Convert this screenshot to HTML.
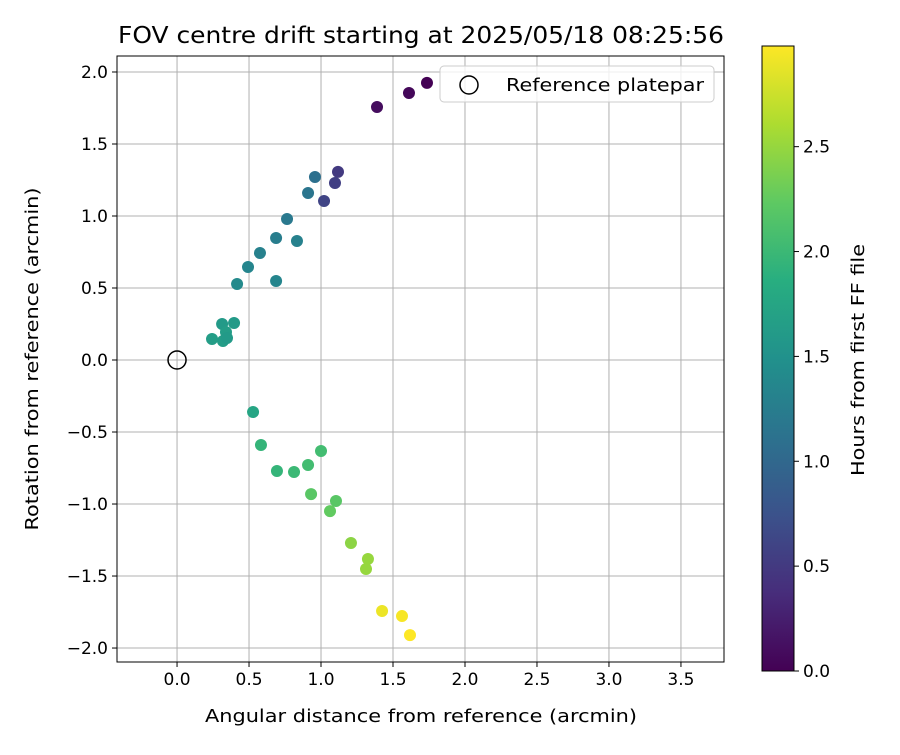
<!DOCTYPE html>
<html><head><meta charset="utf-8"><style>
body{margin:0;background:#fff;width:900px;height:750px;overflow:hidden}
text{font-family:"DejaVu Sans","Liberation Sans",sans-serif;fill:#000}
</style></head><body>
<svg id="chart" width="900" height="750" xmlns="http://www.w3.org/2000/svg">
<defs><linearGradient id="vir" x1="0" y1="1" x2="0" y2="0">
<stop offset="0" stop-color="#440154"/><stop offset="0.125" stop-color="#472d7b"/><stop offset="0.25" stop-color="#3b528b"/><stop offset="0.375" stop-color="#2c728e"/><stop offset="0.5" stop-color="#21918c"/><stop offset="0.625" stop-color="#28ae80"/><stop offset="0.75" stop-color="#5ec962"/><stop offset="0.875" stop-color="#addc30"/><stop offset="1" stop-color="#fde725"/></linearGradient></defs>
<g id="grid"></g><g id="pts"></g><g id="axes"></g>
</svg>
<script>
const xs=[1.736,1.611,1.389,1.118,1.097,1.021,0.958,0.910,0.764,0.688,0.833,0.576,0.493,0.688,0.417,0.396,0.313,0.340,0.243,0.319,0.347,0.528,0.583,0.694,0.8125,0.910,1.0,0.931,1.104,1.0625,1.208,1.326,1.3125,1.424,1.5625,1.618];
const ys=[1.924,1.854,1.757,1.306,1.229,1.104,1.271,1.160,0.979,0.847,0.826,0.743,0.646,0.549,0.528,0.257,0.25,0.194,0.146,0.132,0.153,-0.361,-0.590,-0.771,-0.778,-0.729,-0.632,-0.931,-0.979,-1.049,-1.271,-1.382,-1.451,-1.743,-1.778,-1.910];
const hours=[0.0,0.05,0.1,0.5,0.55,0.6,1.1,1.15,1.2,1.25,1.3,1.3,1.35,1.35,1.4,1.6,1.6,1.65,1.65,1.65,1.6,1.75,1.95,1.95,2.0,2.05,2.05,2.2,2.2,2.25,2.45,2.5,2.5,2.9,2.95,2.98];
const xTicks=[0,0.5,1,1.5,2,2.5,3,3.5];
const yTicks=[-2,-1.5,-1,-0.5,0,0.5,1,1.5,2];
const cTicks=[0,0.5,1,1.5,2,2.5];
const L=117,R=724,T=56,B=662,xmin=-0.417,xmax=3.799,ymin=-2.097,ymax=2.111,hmax=2.98;
const sx=v=>L+(v-xmin)/(xmax-xmin)*(R-L), sy=v=>B-(v-ymin)/(ymax-ymin)*(B-T);
const CT=46,CB=671,cy=v=>CB-v/hmax*(CB-CT);
const vs=[[68,1,84],[71,45,123],[59,82,139],[44,114,142],[33,145,140],[40,174,128],[94,201,98],[173,220,48],[253,231,37]];
function vir(t){t=Math.max(0,Math.min(1,t))*8;const i=Math.min(7,Math.floor(t)),f=t-i,a=vs[i],b=vs[i+1];return`rgb(${a.map((c,k)=>Math.round(c+(b[k]-c)*f)).join(',')})`;}
const NS='http://www.w3.org/2000/svg';
function mk(p,tag,at,txt){const e=document.createElementNS(NS,tag);for(const k in at)e.setAttribute(k,at[k]);if(txt!=null)e.textContent=txt;p.appendChild(e);return e;}
const g=document.getElementById('grid'),pg=document.getElementById('pts'),ax=document.getElementById('axes');
xTicks.forEach(v=>{const X=sx(v);const l=mk(g,'line',{x1:X,x2:X,y1:T,y2:B,stroke:'#b0b0b0','stroke-width':1});

mk(ax,'line',{x1:X,x2:X,y1:B,y2:B+5,stroke:'#000'});
const t=mk(ax,'text',{x:X,y:B+23,'text-anchor':'middle','font-size':'17'},v.toFixed(1));
});
yTicks.forEach(v=>{const Y=sy(v);const l=mk(g,'line',{x1:L,x2:R,y1:Y,y2:Y,stroke:'#b0b0b0','stroke-width':1});

mk(ax,'line',{x1:L-5,x2:L,y1:Y,y2:Y,stroke:'#000'});
const t=mk(ax,'text',{x:L-9,y:Y+6,'text-anchor':'end','font-size':'17'},(v<0?'\u2212':'')+Math.abs(v).toFixed(1));
});
xs.forEach((x,i)=>{const c=mk(pg,'circle',{cx:sx(x),cy:sy(ys[i]),r:6,fill:vir(hours[i]/hmax)});
});
const ref=mk(pg,'circle',{cx:sx(0),cy:sy(0),r:9,fill:'none',stroke:'#000','stroke-width':1.5});

const fr=mk(ax,'rect',{x:L,y:T,width:R-L,height:B-T,fill:'none',stroke:'#000','stroke-width':1});

const tt=mk(ax,'text',{x:118,y:43,'font-size':'23',textLength:606,lengthAdjust:'spacingAndGlyphs'},'FOV centre drift starting at 2025/05/18 08:25:56');

const xl=mk(ax,'text',{x:205,y:722,'font-size':'18',textLength:432,lengthAdjust:'spacingAndGlyphs'},'Angular distance from reference (arcmin)');

const yl=mk(ax,'text',{x:38,y:359,'text-anchor':'middle','font-size':'18',textLength:343,lengthAdjust:'spacingAndGlyphs',transform:'rotate(-90 38 359)'},'Rotation from reference (arcmin)');

const lg=mk(ax,'g',{});
mk(lg,'rect',{x:440,y:66,width:274,height:36,rx:4,fill:'#fff','fill-opacity':0.8,stroke:'#ccc'});
mk(lg,'circle',{cx:469,cy:85,r:9,fill:'none',stroke:'#000','stroke-width':1.5});
const lt=mk(lg,'text',{x:506,y:91,'font-size':'18',textLength:198,lengthAdjust:'spacingAndGlyphs'},'Reference platepar');

const cb=mk(ax,'rect',{x:762,y:CT,width:32,height:CB-CT,fill:'url(#vir)',stroke:'#000','stroke-width':1});

cTicks.forEach(v=>{const Y=cy(v);mk(ax,'line',{x1:794,x2:799,y1:Y,y2:Y,stroke:'#000'});
const t=mk(ax,'text',{x:803,y:Y+6,'font-size':'17'},v.toFixed(1));
});
const cl=mk(ax,'text',{x:864,y:360,'text-anchor':'middle','font-size':'18',textLength:232,lengthAdjust:'spacingAndGlyphs',transform:'rotate(-90 864 360)'},'Hours from first FF file');

</script></body></html>
